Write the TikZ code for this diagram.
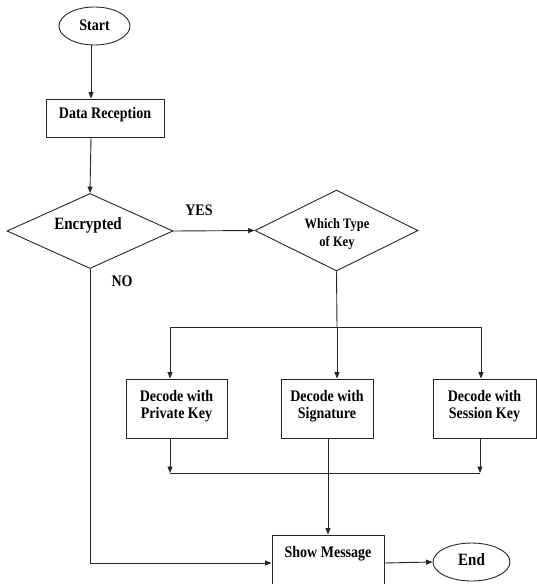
\documentclass[tikz,border=0pt]{standalone}
\usepackage{fontspec}
\setmainfont{Liberation Serif}
\usetikzlibrary{shapes.geometric,arrows.meta}
% labels are set slightly taller than wide
\newcommand{\tx}[1]{\scalebox{1}[1.15]{\begin{tabular}{@{}c@{}}#1\end{tabular}}}
\begin{document}
\begin{tikzpicture}[x=1pt,y=-1pt,
  line/.style={draw=black!85,line width=0.9pt},
  arr/.style={line,-{Triangle[length=6.5pt,width=5pt]}},
  term/.style={ellipse,line,inner sep=0pt},
  proc/.style={rectangle,line,inner sep=0pt},
  decide/.style={diamond,line,inner sep=0pt},
  lbl/.style={font=\bfseries\fontsize{14}{14.5}\selectfont,inner sep=0pt},
  big/.style={lbl,font=\bfseries\fontsize{15}{15.5}\selectfont}]
\useasboundingbox (0,0) rectangle (537,584);
\clip (0,0) rectangle (537,584);

% shapes
\node[term,minimum width=71pt,minimum height=38pt] (start) at (94.5,26) {};
\node[proc,minimum width=118pt,minimum height=38pt] (data) at (105,118) {};
\node[decide,minimum width=166pt,minimum height=75pt] (enc) at (90,231) {};
\node[decide,minimum width=163pt,minimum height=81pt] (which) at (336.5,230.5) {};
\node[proc,minimum width=101pt,minimum height=59pt] (priv) at (176.5,408.5) {};
\node[proc,minimum width=92pt,minimum height=59pt] (sig) at (327,408.5) {};
\node[proc,minimum width=103pt,minimum height=59pt] (sess) at (484.5,408.5) {};
\node[proc,minimum width=112pt,minimum height=56pt] (show) at (328,563) {};
\node[term,minimum width=77pt,minimum height=38pt] (end) at (471.5,562) {};

% texts
\node[lbl] (startt) at (94.5,27.4) {\tx{Start}};
\node[lbl] (datat) at (105,115) {\tx{Data Reception}};
\node[big] (enct) at (88,226.4) {\tx{Encrypted}};
\node[lbl,font=\bfseries\fontsize{12.5}{16}\selectfont] (whicht) at (337,233.8) {\tx{Which Type\\of Key}};
\node[lbl,font=\bfseries\fontsize{14}{14.2}\selectfont] (privt) at (176.5,406.6) {\tx{Decode with\\Private Key}};
\node[lbl,font=\bfseries\fontsize{14}{14.2}\selectfont] (sigt) at (327,406.6) {\tx{Decode with\\Signature}};
\node[lbl,font=\bfseries\fontsize{14}{14.2}\selectfont] (sesst) at (484.5,406.6) {\tx{Decode with\\Session Key}};
\node[lbl] (showt) at (328,554) {\tx{Show Message}};
\node[big] (endt) at (471.5,562.1) {\tx{End}};
\node[lbl] (yes) at (199,211.7) {\tx{YES}};
\node[lbl] (no) at (122,282.7) {\tx{NO}};

% guide column and junction points
\coordinate (col) at (91,0);
\coordinate (split) at (337,327);
\coordinate (splitL) at (170,327);
\coordinate (splitR) at (481,327);
\coordinate (joinL) at (170,473);
\coordinate (joinR) at (480,473);

% connectors
\draw[arr] (start.south -| col) -- (data.north -| col);
\draw[arr] (data.south -| col) -- (enc.north);
\draw[arr] (enc.east) -- (which.west);
\draw[line] (which.south) -- (split);
\draw[line] (splitL) -- (splitR);
\draw[arr] (splitL) -- (splitL |- priv.north);
\draw[arr] (split) -- (split |- sig.north);
\draw[arr] (splitR) -- (splitR |- sess.north);
\draw[arr] (joinL |- priv.south) -- (joinL);
\draw[arr] (joinR |- sess.south) -- (joinR);
\draw[line] (joinL) -- (joinR);
\draw[arr] (sig.south -| show.north) -- (show.north);
\draw[arr] (enc.south) |- (show.west);
\draw[arr] (show.east) -- (end.west);
\end{tikzpicture}
\end{document}
